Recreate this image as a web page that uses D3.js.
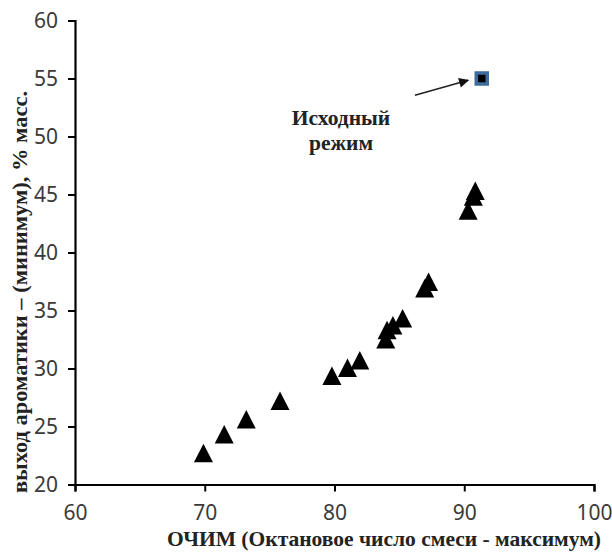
<!DOCTYPE html>
<html>
<head>
    <meta charset="utf-8">
    <title></title>
    <script src="https://d3js.org/d3.v7.min.js"></script>
    <style>
        body { margin: 0; background: #fff; }
    </style>
</head>
<body>
    <svg id="chart" width="612" height="554"></svg>

    <script>
    // data
    let ochim   = [69.9, 71.5, 73.2, 75.8, 79.8, 81.0, 81.95, 83.95, 84.05, 84.5, 85.25, 86.95, 87.25, 90.3, 90.7, 90.85];
    let aromat  = [22.7, 24.3, 25.6, 27.2, 29.35, 30.05, 30.7, 32.5, 33.3, 33.7, 34.3, 36.9, 37.45, 43.6, 44.8, 45.3];
    let startPt = [91.35, 55.0];          // исходный режим
    let xTicks  = [60, 70, 80, 90, 100];
    let yTicks  = [20, 25, 30, 35, 40, 45, 50, 55, 60];
    let xTitle  = "ОЧИМ (Октановое число смеси - максимум)";
    let yTitle  = "выход ароматики – (минимум), % масс.";
    let note    = ["Исходный", "режим"];

    let svg = d3.select("#chart");
    let serif = "'Liberation Serif', 'DejaVu Serif', serif";

    // scales
    let scX = d3.scaleLinear().domain([60, 100]).range([75, 594]),
        scY = d3.scaleLinear().domain([20, 60]).range([484.5, 20.5]);

    // axes
    let xAxis = d3.axisBottom(scX).tickValues(xTicks).tickSize(7).tickPadding(14);
    let yAxis = d3.axisLeft(scY).tickValues(yTicks).tickSize(7).tickPadding(10);

    let gx = svg.append("g").attr("transform", "translate(0," + scY(20) + ")").call(xAxis);
    let gy = svg.append("g").attr("transform", "translate(" + scX(60) + ",0)").call(yAxis);

    [gx, gy].forEach(g => {
        g.select(".domain").attr("stroke", "#000").attr("stroke-width", 2.2);
        g.selectAll(".tick line").attr("stroke", "#000").attr("stroke-width", 2);
        g.selectAll(".tick text")
            .attr("fill", "#3a3a3a")
            .style("font-family", "'Noto Sans', 'Open Sans', sans-serif")
            .style("font-size", "21px");
    });

    // triangles
    let tri = "M0,-9.5 L9.5,9 L-9.5,9 Z";
    svg.append("g").selectAll("path")
        .data(ochim.map((v, i) => [v, aromat[i]]))
        .enter().append("path")
        .attr("d", tri)
        .attr("fill", "#000")
        .attr("transform", d => "translate(" + scX(d[0]) + "," + scY(d[1]) + ")");

    // start point square
    svg.append("rect")
        .attr("x", scX(startPt[0]) - 5.5)
        .attr("y", scY(startPt[1]) - 5.5)
        .attr("width", 11).attr("height", 11)
        .attr("fill", "#000")
        .attr("stroke", "#3f6c9e")
        .attr("stroke-width", 3.5);

    // arrow
    svg.append("defs").append("marker")
        .attr("id", "head")
        .attr("viewBox", "0 0 10 10")
        .attr("refX", 9).attr("refY", 5)
        .attr("markerWidth", 13).attr("markerHeight", 10)
        .attr("markerUnits", "userSpaceOnUse")
        .attr("orient", "auto")
        .append("path").attr("d", "M0,0 L10,5 L0,10 Z").attr("fill", "#111");

    svg.append("line")
        .attr("x1", scX(86.2)).attr("y1", scY(53.55))
        .attr("x2", scX(90.3)).attr("y2", scY(54.85))
        .attr("stroke", "#222").attr("stroke-width", 1.6)
        .attr("marker-end", "url(#head)");

    // annotation
    svg.append("text")
        .attr("x", 341).attr("y", 125)
        .attr("text-anchor", "middle")
        .style("font-family", serif)
        .style("font-weight", "bold").style("font-size", "21.5px")
        .attr("fill", "#222")
        .selectAll("tspan").data(note).enter().append("tspan")
        .attr("x", 341).attr("dy", (d, i) => i ? 25 : 0)
        .text(d => d);

    // axis titles
    svg.append("text")
        .attr("x", 384).attr("y", 546)
        .attr("text-anchor", "middle")
        .style("font-family", serif)
        .style("font-weight", "bold").style("font-size", "21.5px")
        .attr("fill", "#222")
        .text(xTitle);

    svg.append("text")
        .attr("transform", "translate(27,292) rotate(-90) scale(1.07,1)")
        .attr("text-anchor", "middle")
        .style("font-family", serif)
        .style("font-weight", "bold").style("font-size", "21px")
        .attr("fill", "#222")
        .text(yTitle);
    </script>
</body>
</html>
